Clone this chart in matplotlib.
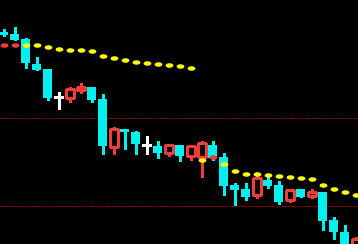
import numpy as np
import matplotlib
matplotlib.use('Agg')
import matplotlib.pyplot as plt
from matplotlib.patches import Rectangle

# precos (escala arbitraria)
opens = [218, 216, 211, 186, 181, 153, 152, 160, 163, 151, 103, 121, 118, 105, 104, 97, 105, 94, 93,
         105, 93, 65, 61, 55, 70, 65, 50, 61, 54, 58, 30, 18, 4]
highs = [221, 223, 212, 193, 181, 158, 163, 167, 163, 156, 123, 121, 119, 114, 109, 105, 105, 105, 109,
         109, 97, 67, 67, 75, 73, 69, 61, 61, 61, 58, 33, 25, 13]
lows = [214, 210, 182, 180, 150, 141, 148, 157, 148, 96, 96, 101, 96, 96, 92, 94, 89, 90, 73,
        90, 55, 45, 50, 52, 62, 46, 48, 53, 52, 20, 11, -2, -10]
closes = [215, 210, 187, 180, 152, 153, 161, 163, 150, 104, 121, 118, 106, 105, 97, 105, 94, 104, 107,
          92, 64, 60, 53, 72, 64, 48, 60, 53, 58, 29, 18, -2, 11]
# tipo: 1 = baixa (cheio), -1 = alta (vazado), 0 = doji
kind = [1, 1, 1, 1, 1, 0, -1, -1, 1, 1, -1, 1, 1, 0, 1, -1, 1, -1, -1,
        1, 1, 1, 1, -1, 1, 1, -1, 1, -1, 1, 1, 1, -1]

# pontos do indicador (SAR)
sar = [205, 205, 205, 205, 203, 201, 200, 200, 199, 194.3, 192.3, 190.3, 188.3, 187, 186, 185, 184.3, 182.3,
       90, 93, 86, 79, 76, 76, 75, 74, 73, 72, 71, 65, 61, 58, 55]
sar_red = [0, 1, 19]

# linhas horizontais
levels = [132, 44]

cyan = '#00f0f0'
red = '#f03c3c'

fig = plt.figure(figsize=(3.58, 2.44), dpi=100)
fig.patch.set_facecolor('black')
ax = fig.add_axes([0, 0, 1, 1])
ax.set_facecolor('black')

w = 9 / 11
for i in range(len(opens)):
    o, h, l, c = opens[i], highs[i], lows[i], closes[i]
    if kind[i] == 1:
        ax.vlines(i, l, h, color=cyan, lw=0.9, antialiased=False, zorder=2)
        ax.add_patch(Rectangle((i - w / 2, c), w, o - c, facecolor=cyan, edgecolor='none',
                               antialiased=False, zorder=3))
    elif kind[i] == -1:
        ax.vlines(i, l, h, color=red, lw=0.9, antialiased=False, zorder=2)
        ax.add_patch(Rectangle((i - w / 2 + 0.5 / 11, o), w - 1 / 11, c - o, facecolor='black',
                               edgecolor=red, lw=0.9, antialiased=False, zorder=3))
    else:
        ax.vlines(i, l, h, color='white', lw=0.9, antialiased=False, zorder=2)
        ax.hlines(o, i - w / 2, i + w / 2, color='white', lw=0.9, antialiased=False, zorder=3)

for lv in levels:
    ax.axhline(lv, color='#a00000', lw=0.75, ls=(0, (2, 1)), zorder=1)

# marcador eliptico
t = np.linspace(0, 2 * np.pi, 30)
elipse = np.column_stack([np.cos(t), 0.58 * np.sin(t)])
cores = [red if i in sar_red else '#ffff00' for i in range(len(sar))]
for i, v in enumerate(sar):
    ax.plot(i, v, marker=elipse, ms=5.6, color=cores[i], mec='none', ls='none', zorder=4)

x0 = -3.5 / 11
ax.set_xlim(x0, x0 + 358 / 11)
ax.set_ylim(6, 250)
ax.axis('off')

fig.savefig('out.png', dpi=100, facecolor='black')
